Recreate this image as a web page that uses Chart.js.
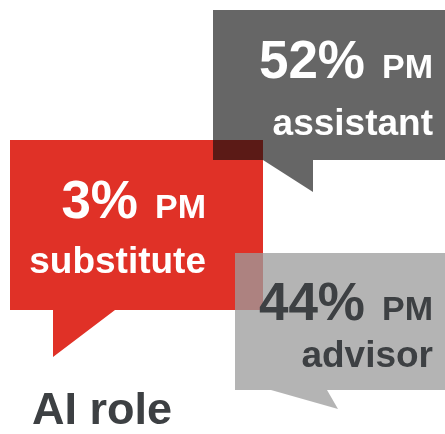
<!DOCTYPE html>
<html>
<head>
<meta charset="utf-8">
<script src="https://cdn.jsdelivr.net/npm/chart.js@4.4.0/dist/chart.umd.min.js"></script>
<style>
  html, body { margin: 0; padding: 0; background: #fff; }
  canvas { display: block; }
</style>
</head>
<body>
<canvas id="roles" width="445" height="434"></canvas>
<script>
// Survey data: how PMs see the role of AI
const roles = ['substitute', 'assistant', 'advisor'];
const shares = [3, 52, 44];
const rolePrefix = 'PM';
const chartTitle = 'AI role';

// Callout layout, in scale units (0..445 across, 0..434 down)
const callouts = [
  { box: [10, 140, 263, 310], tail: [[53, 310], [115, 310], [53, 357]], fill: '#e03127', ink: '#ffffff', right: 206, line1: 218, line2: 273 },
  { box: [213, 10, 460, 160], tail: [[263, 160], [313, 160], [313, 192]], fill: 'rgba(13,13,13,0.63)', ink: '#ffffff', right: 433, line1: 78, line2: 135 },
  { box: [235, 253, 460, 390], tail: [[271, 390], [327, 390], [338, 409]], fill: 'rgba(156,156,156,0.76)', ink: '#3d4043', right: 433, line1: 320, line2: 367 }
];

const FONT = '"Liberation Sans", Arial, sans-serif';

// Plugin that draws the speech bubbles through the hidden scales
const calloutPlugin = {
  id: 'callouts',
  afterDraw(chart) {
    const ctx = chart.ctx;
    const sx = chart.scales.x, sy = chart.scales.y;
    const px = v => sx.getPixelForValue(v);
    const py = v => sy.getPixelForValue(v);

    ctx.save();
    roles.forEach((role, i) => {
      const c = callouts[i];
      const [x0, y0, x1, y1] = c.box;
      ctx.fillStyle = c.fill;
      ctx.beginPath();
      ctx.moveTo(px(x0), py(y0));
      ctx.lineTo(px(x1), py(y0));
      ctx.lineTo(px(x1), py(y1));
      // tail points go in along the bottom edge
      const t = c.tail;
      const ordered = t[1][0] > t[0][0] ? [t[1], t[2], t[0]] : [t[0], t[2], t[1]];
      ctx.lineTo(px(ordered[0][0]), py(ordered[0][1]));
      ctx.lineTo(px(ordered[1][0]), py(ordered[1][1]));
      ctx.lineTo(px(ordered[2][0]), py(ordered[2][1]));
      ctx.lineTo(px(x0), py(y1));
      ctx.closePath();
      ctx.fill();
    });

    // labels on top of all bubbles
    roles.forEach((role, i) => {
      const c = callouts[i];
      const right = px(c.right);
      ctx.fillStyle = c.ink;
      ctx.textBaseline = 'alphabetic';
      ctx.textAlign = 'right';

      ctx.font = 'bold 34px ' + FONT;
      const pmW = ctx.measureText(rolePrefix).width;
      ctx.fillText(rolePrefix, right, py(c.line1));

      ctx.font = 'bold 53px ' + FONT;
      ctx.fillText(shares[i] + '%', right - pmW - 17, py(c.line1));

      ctx.font = 'bold 37px ' + FONT;
      ctx.fillText(role, right, py(c.line2));
    });

    ctx.fillStyle = '#3d4043';
    ctx.textAlign = 'left';
    ctx.font = 'bold 45px ' + FONT;
    ctx.fillText(chartTitle, px(32), py(424));
    ctx.restore();
  }
};

new Chart(document.getElementById('roles'), {
  type: 'scatter',
  data: { datasets: [] },
  options: {
    responsive: false,
    animation: false,
    layout: { padding: 0 },
    plugins: { legend: { display: false }, tooltip: { enabled: false } },
    scales: {
      x: { type: 'linear', min: 0, max: 445, display: false },
      y: { type: 'linear', min: 0, max: 434, reverse: true, display: false }
    }
  },
  plugins: [calloutPlugin]
});
</script>
</body>
</html>
